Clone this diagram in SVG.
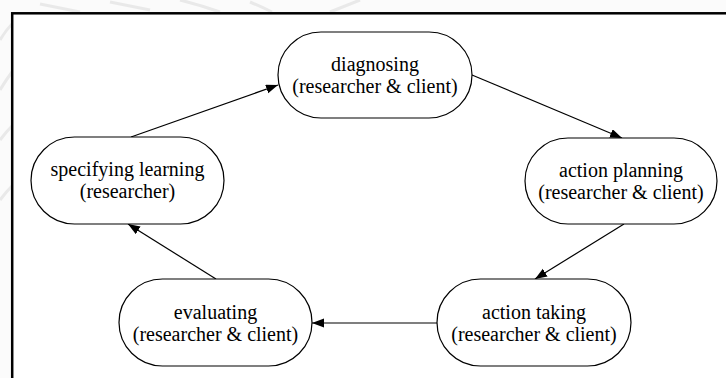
<svg xmlns="http://www.w3.org/2000/svg" width="726" height="378" viewBox="0 0 726 378" font-family="'Liberation Serif', 'DejaVu Serif', serif">
  <style>
    .node rect { fill: #ffffff; stroke: #000000; stroke-width: 1.2; }
    .node text { font-family: 'Liberation Serif', 'DejaVu Serif', serif; font-size: 20px; fill: #000000; text-anchor: middle; }
    .edge { stroke: #000000; stroke-width: 1.2; fill: none; marker-end: url(#arrow); }
    .streak { stroke: #e9e9e9; stroke-width: 3; fill: none; }
  </style>
  <defs>
    <marker id="arrow" markerUnits="userSpaceOnUse" markerWidth="13" markerHeight="10" refX="12" refY="4.5" orient="auto">
      <path d="M0,0 L12,4.5 L0,9 z" fill="#000000"/>
    </marker>
  </defs>

  <!-- page background with faint streaks in the margin -->
  <rect x="0" y="0" width="726" height="378" fill="#fbfbfb"/>
  <g id="margin-streaks">
    <path class="streak" d="M0,40 Q6,30 12,24"/>
    <path class="streak" d="M0,90 Q6,80 12,72"/>
    <path class="streak" d="M0,140 Q6,132 12,126"/>
    <path class="streak" d="M0,200 Q6,192 12,186"/>
    <path class="streak" d="M40,4 Q60,8 80,12"/>
    <path class="streak" d="M110,2 Q130,6 150,10"/>
    <path class="streak" d="M180,0 Q200,5 220,12"/>
    <path class="streak" d="M250,2 Q262,7 272,12"/>
    <path class="streak" d="M330,12 Q345,6 360,0"/>
  </g>

  <!-- framed drawing area -->
  <rect x="12.2" y="13.3" width="800" height="500" fill="#ffffff" stroke="#000000" stroke-width="2.5"/>

  <g id="connectors">
    <line class="edge" x1="131" y1="137" x2="278" y2="85"/>
    <line class="edge" x1="472" y1="75" x2="622" y2="138"/>
    <line class="edge" x1="624" y1="224" x2="535" y2="279"/>
    <line class="edge" x1="437" y1="323" x2="312" y2="323"/>
    <line class="edge" x1="216" y1="279" x2="128" y2="224"/>
  </g>

  <g id="diagnosing" class="node" font-family="'Liberation Serif', 'DejaVu Serif', serif">
    <rect x="278" y="32" width="194" height="86" rx="43" ry="43"/>
    <text x="375" y="71">diagnosing</text>
    <text x="375" y="93">(researcher &amp; client)</text>
  </g>

  <g id="action-planning" class="node" font-family="'Liberation Serif', 'DejaVu Serif', serif">
    <rect x="525" y="138" width="192" height="86" rx="43" ry="43"/>
    <text x="621" y="177">action planning</text>
    <text x="621" y="199">(researcher &amp; client)</text>
  </g>

  <g id="action-taking" class="node" font-family="'Liberation Serif', 'DejaVu Serif', serif">
    <rect x="437" y="279" width="194" height="87" rx="43.5" ry="43.5"/>
    <text x="534" y="319">action taking</text>
    <text x="534" y="341">(researcher &amp; client)</text>
  </g>

  <g id="evaluating" class="node" font-family="'Liberation Serif', 'DejaVu Serif', serif">
    <rect x="119" y="279" width="193" height="87" rx="43.5" ry="43.5"/>
    <text x="215.5" y="319">evaluating</text>
    <text x="215.5" y="341">(researcher &amp; client)</text>
  </g>

  <g id="specifying-learning" class="node" font-family="'Liberation Serif', 'DejaVu Serif', serif">
    <rect x="31" y="137" width="193" height="87" rx="43.5" ry="43.5"/>
    <text x="127.5" y="176">specifying learning</text>
    <text x="127.5" y="198">(researcher)</text>
  </g>
</svg>
